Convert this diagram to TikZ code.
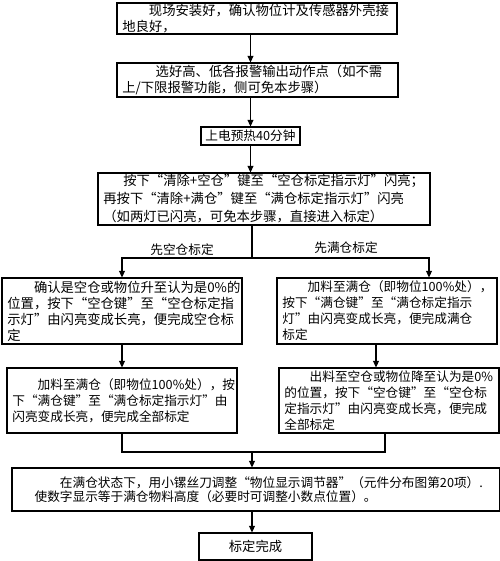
\documentclass[tikz,border=0pt]{standalone}
\usepackage{fontspec}
\setmainfont{Noto Sans CJK SC}
\usetikzlibrary{arrows.meta}

\tikzset{
  stepbox/.style={draw, line width=0.8pt, inner xsep=4pt, inner ysep=0pt,
    align=left, font=\fontsize{10}{12}\selectfont},
  smallbox/.style={stepbox, font=\fontsize{9.5}{12}\selectfont},
  branchlabel/.style={font=\fontsize{9.5}{12}\selectfont, inner sep=0pt},
  arr/.style={-{Triangle[length=5pt,width=4.5pt]}},
}

\begin{document}
\begin{tikzpicture}[x=0.75pt, y=-0.75pt, line width=0.8pt]
	\useasboundingbox (0,0) rectangle (500,561);

	% boxes
	\node[stepbox, text width=202pt, minimum height=23.25pt, font=\fontsize{10}{11.5}\selectfont] (b1) at (257,18.5)
		{\hspace*{2em}现场安装好，确认物位计及传感器外壳接\\地良好，};
	\node[stepbox, text width=202.75pt, minimum height=25.5pt] (b2) at (257.5,80)
		{\hspace*{2.5em}选好高、低各报警输出动作点（如不需\\上/下限报警功能，侧可免本步骤）};
	\node[stepbox, align=center, inner xsep=1pt, minimum width=74.25pt, minimum height=13.5pt, font=\fontsize{9.5}{12}\selectfont] (b3) at (250.5,136)
		{上电预热40分钟};
	\node[stepbox, text width=241pt, minimum height=39pt, font=\fontsize{10}{13.5}\selectfont] (b4) at (264,199)
		{\hspace*{1.5em}按下“清除+空仓”键至“空仓标定指示灯”闪亮；\\
		 再按下“清除+满仓”键至“满仓标定指示灯”闪亮\\
		 （如两灯已闪亮，可免本步骤，直接进入标定）};
	\node[stepbox, text width=172pt, minimum height=49.5pt] (b5) at (122,311)
		{\hspace*{2em}确认是空仓或物位升至认为是0\%的\\
		 位置，按下“空仓键”至“空仓标定指\\
		 示灯”由闪亮变成长亮，便完成空仓标\\
		 定};
	\node[smallbox, text width=157pt, minimum height=49.5pt] (b6) at (387,311)
		{\hspace*{2em}加料至满仓（即物位100\%处），\\
		 按下“满仓键”至“满仓标定指示\\
		 灯”由闪亮变成长亮，便完成满仓\\
		 标定};
	\node[smallbox, text width=164.5pt, minimum height=48.75pt] (b7) at (122,400.5)
		{\hspace*{2em}加料至满仓（即物位100\%处），按\\
		 下“满仓键”至“满仓标定指示灯”由\\
		 闪亮变成长亮，便完成全部标定};
	\node[smallbox, text width=157pt, minimum height=48.75pt] (b8) at (389,400.5)
		{\hspace*{2em}出料至空仓或物位降至认为是0\%\\
		 的位置，按下“空仓键”至“空仓标\\
		 定指示灯”由闪亮变成长亮，便完成\\
		 全部标定};
	\node[smallbox, text width=332pt, inner xsep=17pt, minimum height=32.25pt, font=\fontsize{9.5}{10.5}\selectfont] (b9) at (256,489.5)
		{\hspace*{2em}在满仓状态下，用小镙丝刀调整“物位显示调节器”（元件分布图第20项）.\\
		 使数字显示等于满仓物料高度（必要时可调整小数点位置）。};
	\node[stepbox, align=center, minimum width=84.75pt, minimum height=20.25pt] (b10) at (255.5,546.5)
		{标定完成};

	% branch labels
	\node[branchlabel] (lblL) at (182,250) {先空仓标定};
	\node[branchlabel] (lblR) at (346,248) {先满仓标定};

	% helper points
	\coordinate (split) at (252,258);
	\coordinate (rbranch) at (429,258);
	\coordinate (rdown) at (376,350);
	\coordinate (jr) at (385,452);
	\coordinate (join) at (252,452);

	% connectors
	\draw[arr] (b1.south -| b3) -- (b2.north -| b3);
	\draw[arr] (b2.south -| b3) -- (b3.north);
	\draw[arr] (b3.south) -- (b4.north -| b3);
	\draw (b4.south -| split) -- (split);
	\draw[arr] (split) -| (b5.north);
	\draw[arr] (split) -- (rbranch) -- (rbranch |- b6.north);
	\draw[arr] (b5.south) -- (b7.north);
	\draw[arr] (b6.south -| rdown) -- (b8.north -| rdown);
	\draw (b7.south) |- (join);
	\draw (jr |- b8.south) -- (jr) -- (join);
	\draw[arr] (join) -- (b9.north -| join);
	\draw[arr] (b9.south -| join) -- (b10.north -| join);

\end{tikzpicture}
\end{document}
